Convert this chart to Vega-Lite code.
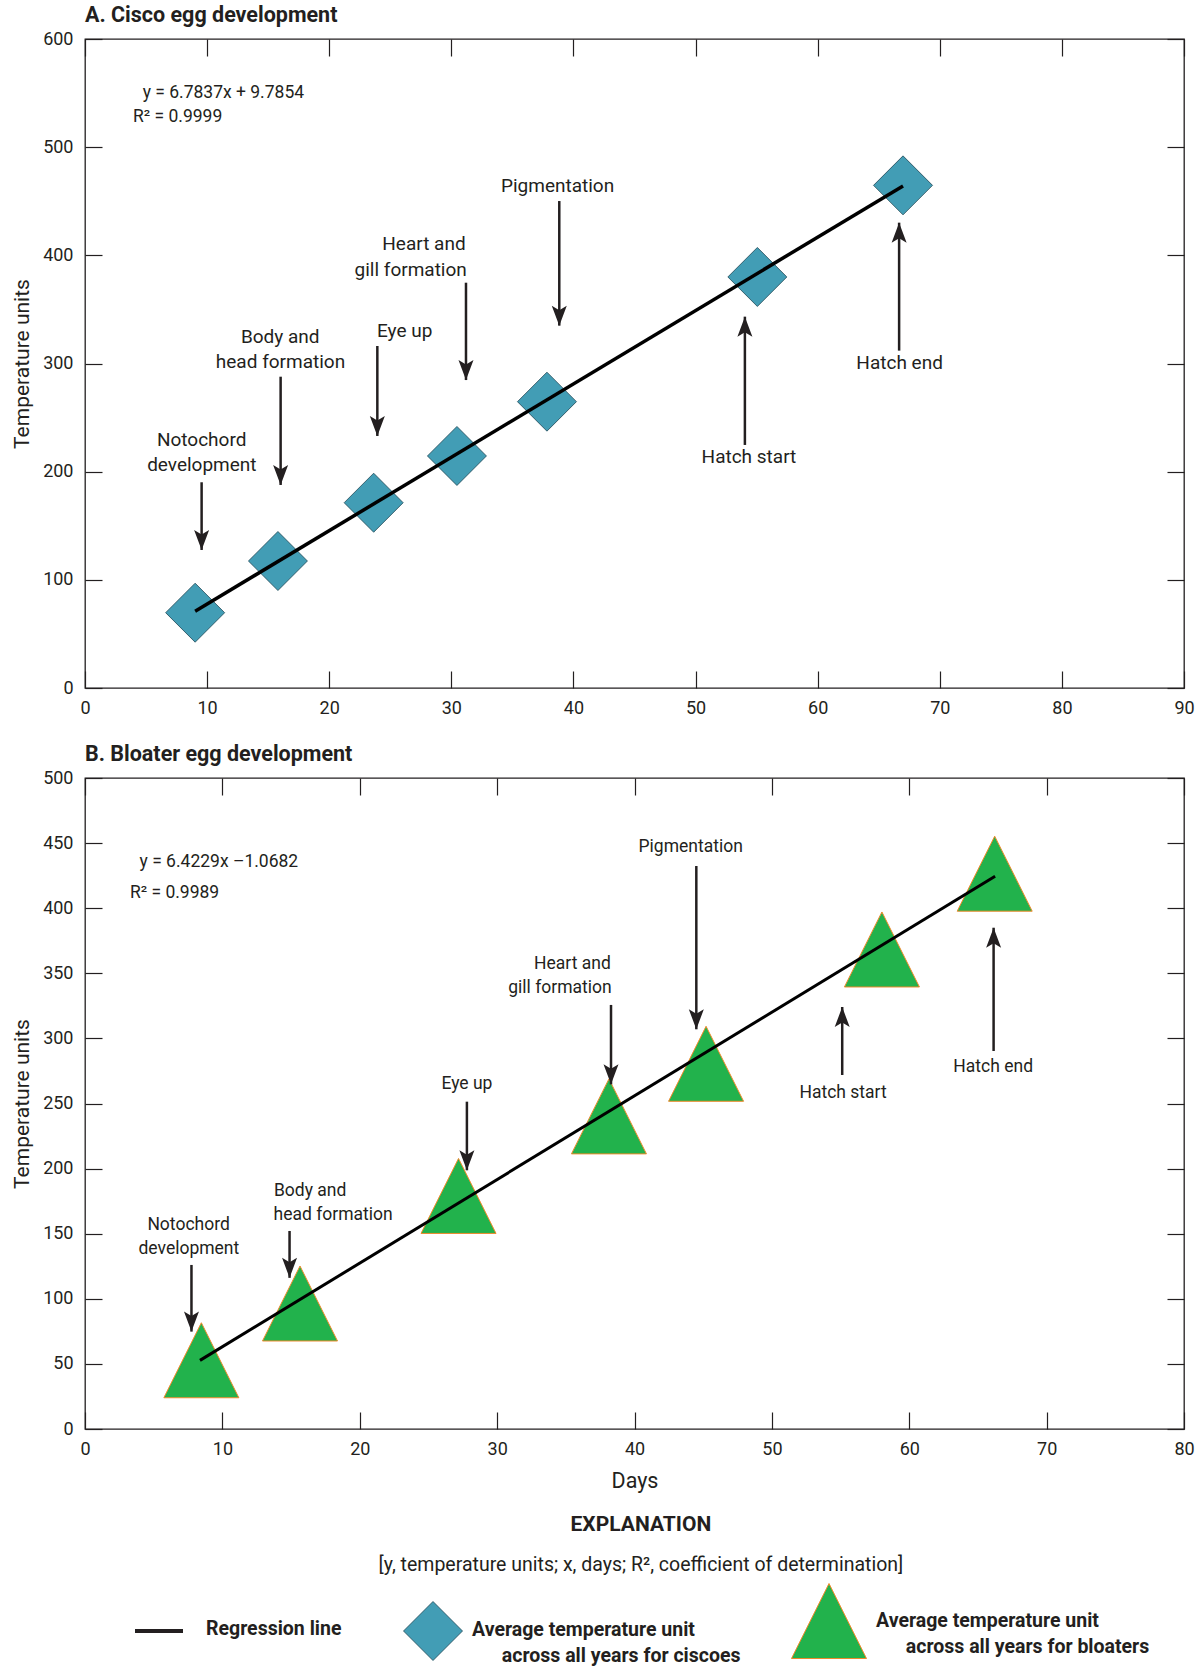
{
  "$schema": "https://vega.github.io/schema/vega-lite/v6.json",
  "padding": {"left": 11, "right": 8, "top": 3, "bottom": 0},
  "background": "white",
  "spacing": 24,
  "config": {
    "view": {"stroke": "#231f20", "strokeWidth": 1.3},
    "axis": {
      "grid": false, "domain": false, "tickColor": "#231f20", "tickWidth": 1.2, "tickSize": -17,
      "labelFont": "Roboto", "labelFontSize": 18, "labelColor": "#231f20",
      "labelFlush": false, "labelOverlap": false, "labelPadding": 29,
      "titleFont": "Roboto", "titleFontSize": 21, "titleFontWeight": "normal", "titleColor": "#231f20"
    },
    "axisX": {"labelPadding": 28, "titlePadding": 12, "titleFontSize": 21.5},
    "axisY": {"titlePadding": 10},
    "title": {"font": "Roboto", "fontSize": 21.5, "fontWeight": "bold", "color": "#231f20", "anchor": "start", "frame": "group", "offset": 0},
    "legend": {
      "orient": "none", "legendX": 36, "legendY": 1544, "direction": "horizontal", "columns": 3, "clipHeight": 84,
      "labelFont": "Roboto", "labelFontWeight": "bold", "labelFontSize": 19.5, "labelColor": "#231f20",
      "labelLimit": 600, "labelOffset": -6, "columnPadding": 50, "symbolOpacity": 1
    }
  },
  "datasets": {
    "ciscoPts": [
      {"day": 9.02, "tu": 69.6}, {"day": 15.8, "tu": 117.4}, {"day": 23.64, "tu": 171.3},
      {"day": 30.46, "tu": 214.5}, {"day": 37.83, "tu": 264.7}, {"day": 55.06, "tu": 380.0}, {"day": 66.99, "tu": 464.7}
    ],
    "ciscoLine": [{"day": 9.02, "tu": 71.0}, {"day": 66.99, "tu": 464.2}],
    "ciscoArrows": [
      {"day": 9.55, "from": 190.2, "to": 127.6, "dir": "down"},
      {"day": 16.02, "from": 287.8, "to": 187.7, "dir": "down"},
      {"day": 23.94, "from": 316.2, "to": 233.0, "dir": "down"},
      {"day": 31.2, "from": 374.7, "to": 284.7, "dir": "down"},
      {"day": 38.84, "from": 450.2, "to": 335.0, "dir": "down"},
      {"day": 54.04, "from": 224.7, "to": 343.3, "dir": "up"},
      {"day": 66.67, "from": 311.9, "to": 430.2, "dir": "up"}
    ],
    "ciscoLabels": [
      {"day": 9.55, "tu": 229.3, "label": "Notochord"}, {"day": 9.57, "tu": 206.2, "label": "development"},
      {"day": 15.99, "tu": 324.8, "label": "Body and"}, {"day": 16.01, "tu": 301.1, "label": "head formation"},
      {"day": 26.18, "tu": 330.0, "label": "Eye up"},
      {"day": 27.76, "tu": 410.5, "label": "Heart and"}, {"day": 26.67, "tu": 386.4, "label": "gill formation"},
      {"day": 38.70, "tu": 464.1, "label": "Pigmentation"},
      {"day": 54.37, "tu": 213.3, "label": "Hatch start"}, {"day": 66.71, "tu": 300.2, "label": "Hatch end"}
    ],
    "ciscoEq": [
      {"day": 4.72, "tu": 550.3, "text": "y = 6.7837x + 9.7854"},
      {"day": 3.93, "tu": 527.6, "text": "R² = 0.9999"}
    ],
    "bloaterPts": [
      {"day": 8.47, "tu": 52.8, "series": "Average temperature unit across all years for bloaters"},
      {"day": 15.65, "tu": 96.4, "series": "Average temperature unit across all years for bloaters"},
      {"day": 27.19, "tu": 179.0, "series": "Average temperature unit across all years for bloaters"},
      {"day": 38.14, "tu": 240.1, "series": "Average temperature unit across all years for bloaters"},
      {"day": 45.21, "tu": 280.5, "series": "Average temperature unit across all years for bloaters"},
      {"day": 58.01, "tu": 368.3, "series": "Average temperature unit across all years for bloaters"},
      {"day": 66.22, "tu": 426.5, "series": "Average temperature unit across all years for bloaters"}
    ],
    "bloaterLine": [{"day": 8.37, "tu": 52.7}, {"day": 66.25, "tu": 424.5}],
    "bloaterArrows": [
      {"day": 7.75, "from": 126.0, "to": 74.8, "dir": "down"},
      {"day": 14.89, "from": 152.1, "to": 116.1, "dir": "down"},
      {"day": 27.80, "from": 251.4, "to": 198.7, "dir": "down"},
      {"day": 38.29, "from": 325.7, "to": 264.7, "dir": "down"},
      {"day": 44.50, "from": 432.4, "to": 307.0, "dir": "down"},
      {"day": 55.12, "from": 271.9, "to": 324.1, "dir": "up"},
      {"day": 66.14, "from": 290.3, "to": 385.0, "dir": "up"}
    ],
    "bloaterLabels": [
      {"day": 7.54, "tu": 156.7, "label": "Notochord"}, {"day": 7.56, "tu": 138.3, "label": "development"},
      {"day": 16.39, "tu": 182.8, "label": "Body and"}, {"day": 18.06, "tu": 164.4, "label": "head formation"},
      {"day": 27.80, "tu": 264.7, "label": "Eye up"},
      {"day": 35.48, "tu": 356.8, "label": "Heart and"}, {"day": 34.57, "tu": 338.8, "label": "gill formation"},
      {"day": 44.09, "tu": 447.2, "label": "Pigmentation"},
      {"day": 55.18, "tu": 258.3, "label": "Hatch start"}, {"day": 66.11, "tu": 278.0, "label": "Hatch end"}
    ],
    "bloaterEq": [
      {"day": 3.97, "tu": 435.6, "text": "y = 6.4229x –1.0682"},
      {"day": 3.27, "tu": 411.8, "text": "R² = 0.9989"}
    ]
  },
  "vconcat": [
    {
      "width": 1099, "height": 649,
      "title": {"text": "A. Cisco egg development"},
      "resolve": {"axis": {"x": "independent", "y": "independent"}},
      "layer": [
        {
          "data": {"name": "ciscoPts"},
          "mark": {"type": "point", "shape": "diamond", "size": 3481, "filled": true, "fill": "#429db5", "stroke": "#1f4756", "strokeWidth": 0.8, "opacity": 1},
          "encoding": {
            "x": {"field": "day", "type": "quantitative", "scale": {"domain": [0, 90], "nice": false, "zero": false},
                  "axis": {"orient": "bottom", "values": [0, 10, 20, 30, 40, 50, 60, 70, 80, 90], "title": null}},
            "y": {"field": "tu", "type": "quantitative", "scale": {"domain": [0, 600], "nice": false},
                  "axis": {"orient": "left", "values": [0, 100, 200, 300, 400, 500, 600], "title": "Temperature units"}}
          }
        },
        {
          "data": {"name": "ciscoLine"},
          "mark": {"type": "line", "color": "#000000", "strokeWidth": 3.5},
          "encoding": {
            "x": {"field": "day", "type": "quantitative", "axis": {"orient": "top", "labels": false, "title": null, "values": [0, 10, 20, 30, 40, 50, 60, 70, 80, 90]}},
            "y": {"field": "tu", "type": "quantitative", "axis": {"orient": "right", "labels": false, "title": null, "values": [0, 100, 200, 300, 400, 500, 600]}}
          }
        },
        {
          "data": {"name": "ciscoArrows"},
          "mark": {"type": "rule", "color": "#231f20", "strokeWidth": 2.5},
          "encoding": {
            "x": {"field": "day", "type": "quantitative", "axis": null},
            "y": {"field": "from", "type": "quantitative", "axis": null},
            "y2": {"field": "to"}
          }
        },
        {
          "data": {"name": "ciscoArrows"},
          "transform": [{"filter": "datum.dir == 'down'"}],
          "mark": {"type": "point", "shape": "M0,1L-0.75,-1L0,-0.55L0.75,-1Z", "size": 400, "filled": true, "fill": "#231f20", "strokeWidth": 0, "opacity": 1, "yOffset": -10},
          "encoding": {
            "x": {"field": "day", "type": "quantitative", "axis": null},
            "y": {"field": "to", "type": "quantitative", "axis": null}
          }
        },
        {
          "data": {"name": "ciscoArrows"},
          "transform": [{"filter": "datum.dir == 'up'"}],
          "mark": {"type": "point", "shape": "M0,-1L-0.75,1L0,0.55L0.75,1Z", "size": 400, "filled": true, "fill": "#231f20", "strokeWidth": 0, "opacity": 1, "yOffset": 10},
          "encoding": {
            "x": {"field": "day", "type": "quantitative", "axis": null},
            "y": {"field": "to", "type": "quantitative", "axis": null}
          }
        },
        {
          "data": {"name": "ciscoLabels"},
          "mark": {"type": "text", "font": "Roboto", "fontSize": 19, "color": "#231f20", "align": "center", "baseline": "middle"},
          "encoding": {
            "x": {"field": "day", "type": "quantitative", "axis": null},
            "y": {"field": "tu", "type": "quantitative", "axis": null},
            "text": {"field": "label"}
          }
        },
        {
          "data": {"name": "ciscoEq"},
          "mark": {"type": "text", "font": "Roboto", "fontSize": 17.5, "color": "#231f20", "align": "left", "baseline": "middle"},
          "encoding": {
            "x": {"field": "day", "type": "quantitative", "axis": null},
            "y": {"field": "tu", "type": "quantitative", "axis": null},
            "text": {"field": "text"}
          }
        }
      ]
    },
    {
      "title": {
        "text": "EXPLANATION",
        "subtitle": "[y, temperature units; x, days; R², coefficient of determination]",
        "orient": "bottom", "anchor": "middle", "frame": "bounds", "dx": 38,
        "fontSize": 21, "fontWeight": "bold", "offset": 22,
        "subtitleFont": "Roboto", "subtitleFontSize": 19.5, "subtitleFontWeight": "normal",
        "subtitleColor": "#231f20", "subtitlePadding": 21
      },
      "vconcat": [
        {
          "width": 1099, "height": 651,
          "title": {"text": "B. Bloater egg development"},
          "resolve": {"axis": {"x": "independent", "y": "independent"}},
          "layer": [
            {
              "data": {"name": "bloaterPts"},
              "mark": {"type": "point", "filled": true, "opacity": 1},
              "encoding": {
                "x": {"field": "day", "type": "quantitative", "scale": {"domain": [0, 80], "nice": false, "zero": false},
                      "axis": {"orient": "bottom", "values": [0, 10, 20, 30, 40, 50, 60, 70, 80], "title": "Days"}},
                "y": {"field": "tu", "type": "quantitative", "scale": {"domain": [0, 500], "nice": false},
                      "axis": {"orient": "left", "values": [0, 50, 100, 150, 200, 250, 300, 350, 400, 450, 500], "title": "Temperature units"}},
                "shape": {"field": "series", "type": "nominal",
                  "scale": {"domain": ["Regression line", "Average temperature unit across all years for ciscoes", "Average temperature unit across all years for bloaters"],
                            "range": ["stroke", "diamond", "M0,-1L1,1L-1,1Z"]},
                  "legend": {"title": null,
                    "labelExpr": "datum.label == 'Regression line' ? datum.label + '\u2002\u200b' : [slice(datum.label, 0, 24), '\u200b\u2002\u2002\u2002' + slice(datum.label, 25)]",
                    "encoding": {
                      "symbols": {
                        "x": {"value": {"expr": "datum.value == 'Average temperature unit across all years for ciscoes' ? 31 : 38"}},
                        "y": {"value": {"expr": "datum.value == 'Average temperature unit across all years for bloaters' ? 38 : 48"}}
                      },
                      "labels": {
                        "lineHeight": {"value": 25.5},
                        "dx": {"value": {"expr": "datum.value == 'Average temperature unit across all years for ciscoes' ? 0 : 15"}},
                        "dy": {"value": {"expr": "datum.value == 'Average temperature unit across all years for bloaters' ? -4 : datum.value == 'Regression line' ? 4 : 5"}}
                      }
                    }}},
                "fill": {"field": "series", "type": "nominal",
                  "scale": {"domain": ["Regression line", "Average temperature unit across all years for ciscoes", "Average temperature unit across all years for bloaters"],
                            "range": ["#231f20", "#429db5", "#22b24c"]},
                  "legend": {"title": null,
                    "labelExpr": "datum.label == 'Regression line' ? datum.label + '\u2002\u200b' : [slice(datum.label, 0, 24), '\u200b\u2002\u2002\u2002' + slice(datum.label, 25)]",
                    "encoding": {
                      "symbols": {
                        "x": {"value": {"expr": "datum.value == 'Average temperature unit across all years for ciscoes' ? 31 : 38"}},
                        "y": {"value": {"expr": "datum.value == 'Average temperature unit across all years for bloaters' ? 38 : 48"}}
                      },
                      "labels": {
                        "lineHeight": {"value": 25.5},
                        "dx": {"value": {"expr": "datum.value == 'Average temperature unit across all years for ciscoes' ? 0 : 15"}},
                        "dy": {"value": {"expr": "datum.value == 'Average temperature unit across all years for bloaters' ? -4 : datum.value == 'Regression line' ? 4 : 5"}}
                      }
                    }}},
                "stroke": {"field": "series", "type": "nominal",
                  "scale": {"domain": ["Regression line", "Average temperature unit across all years for ciscoes", "Average temperature unit across all years for bloaters"],
                            "range": ["#231f20", "#1f4756", "#ef8a2c"]},
                  "legend": {"title": null,
                    "labelExpr": "datum.label == 'Regression line' ? datum.label + '\u2002\u200b' : [slice(datum.label, 0, 24), '\u200b\u2002\u2002\u2002' + slice(datum.label, 25)]",
                    "encoding": {
                      "symbols": {
                        "x": {"value": {"expr": "datum.value == 'Average temperature unit across all years for ciscoes' ? 31 : 38"}},
                        "y": {"value": {"expr": "datum.value == 'Average temperature unit across all years for bloaters' ? 38 : 48"}}
                      },
                      "labels": {
                        "lineHeight": {"value": 25.5},
                        "dx": {"value": {"expr": "datum.value == 'Average temperature unit across all years for ciscoes' ? 0 : 15"}},
                        "dy": {"value": {"expr": "datum.value == 'Average temperature unit across all years for bloaters' ? -4 : datum.value == 'Regression line' ? 4 : 5"}}
                      }
                    }}},
                "size": {"field": "series", "type": "nominal",
                  "scale": {"type": "ordinal", "domain": ["Regression line", "Average temperature unit across all years for ciscoes", "Average temperature unit across all years for bloaters"],
                            "range": [2304, 3481, 5625]},
                  "legend": {"title": null,
                    "labelExpr": "datum.label == 'Regression line' ? datum.label + '\u2002\u200b' : [slice(datum.label, 0, 24), '\u200b\u2002\u2002\u2002' + slice(datum.label, 25)]",
                    "encoding": {
                      "symbols": {
                        "x": {"value": {"expr": "datum.value == 'Average temperature unit across all years for ciscoes' ? 31 : 38"}},
                        "y": {"value": {"expr": "datum.value == 'Average temperature unit across all years for bloaters' ? 38 : 48"}}
                      },
                      "labels": {
                        "lineHeight": {"value": 25.5},
                        "dx": {"value": {"expr": "datum.value == 'Average temperature unit across all years for ciscoes' ? 0 : 15"}},
                        "dy": {"value": {"expr": "datum.value == 'Average temperature unit across all years for bloaters' ? -4 : datum.value == 'Regression line' ? 4 : 5"}}
                      }
                    }}},
                "strokeWidth": {"field": "series", "type": "nominal",
                  "scale": {"type": "ordinal", "domain": ["Regression line", "Average temperature unit across all years for ciscoes", "Average temperature unit across all years for bloaters"],
                            "range": [4, 0.8, 1]},
                  "legend": {"title": null,
                    "labelExpr": "datum.label == 'Regression line' ? datum.label + '\u2002\u200b' : [slice(datum.label, 0, 24), '\u200b\u2002\u2002\u2002' + slice(datum.label, 25)]",
                    "encoding": {
                      "symbols": {
                        "x": {"value": {"expr": "datum.value == 'Average temperature unit across all years for ciscoes' ? 31 : 38"}},
                        "y": {"value": {"expr": "datum.value == 'Average temperature unit across all years for bloaters' ? 38 : 48"}}
                      },
                      "labels": {
                        "lineHeight": {"value": 25.5},
                        "dx": {"value": {"expr": "datum.value == 'Average temperature unit across all years for ciscoes' ? 0 : 15"}},
                        "dy": {"value": {"expr": "datum.value == 'Average temperature unit across all years for bloaters' ? -4 : datum.value == 'Regression line' ? 4 : 5"}}
                      }
                    }}}
              }
            },
            {
              "data": {"name": "bloaterLine"},
              "mark": {"type": "line", "color": "#000000", "strokeWidth": 3},
              "encoding": {
                "x": {"field": "day", "type": "quantitative", "axis": {"orient": "top", "labels": false, "title": null, "values": [0, 10, 20, 30, 40, 50, 60, 70, 80]}},
                "y": {"field": "tu", "type": "quantitative", "axis": {"orient": "right", "labels": false, "title": null, "values": [0, 50, 100, 150, 200, 250, 300, 350, 400, 450, 500]}}
              }
            },
            {
              "data": {"name": "bloaterArrows"},
              "mark": {"type": "rule", "color": "#231f20", "strokeWidth": 2.5},
              "encoding": {
                "x": {"field": "day", "type": "quantitative", "axis": null},
                "y": {"field": "from", "type": "quantitative", "axis": null},
                "y2": {"field": "to"}
              }
            },
            {
              "data": {"name": "bloaterArrows"},
              "transform": [{"filter": "datum.dir == 'down'"}],
              "mark": {"type": "point", "shape": "M0,1L-0.75,-1L0,-0.55L0.75,-1Z", "size": 400, "filled": true, "fill": "#231f20", "strokeWidth": 0, "opacity": 1, "yOffset": -10},
              "encoding": {
                "x": {"field": "day", "type": "quantitative", "axis": null},
                "y": {"field": "to", "type": "quantitative", "axis": null}
              }
            },
            {
              "data": {"name": "bloaterArrows"},
              "transform": [{"filter": "datum.dir == 'up'"}],
              "mark": {"type": "point", "shape": "M0,-1L-0.75,1L0,0.55L0.75,1Z", "size": 400, "filled": true, "fill": "#231f20", "strokeWidth": 0, "opacity": 1, "yOffset": 10},
              "encoding": {
                "x": {"field": "day", "type": "quantitative", "axis": null},
                "y": {"field": "to", "type": "quantitative", "axis": null}
              }
            },
            {
              "data": {"name": "bloaterLabels"},
              "mark": {"type": "text", "font": "Roboto", "fontSize": 17.5, "color": "#231f20", "align": "center", "baseline": "middle"},
              "encoding": {
                "x": {"field": "day", "type": "quantitative", "axis": null},
                "y": {"field": "tu", "type": "quantitative", "axis": null},
                "text": {"field": "label"}
              }
            },
            {
              "data": {"name": "bloaterEq"},
              "mark": {"type": "text", "font": "Roboto", "fontSize": 17.5, "color": "#231f20", "align": "left", "baseline": "middle"},
              "encoding": {
                "x": {"field": "day", "type": "quantitative", "axis": null},
                "y": {"field": "tu", "type": "quantitative", "axis": null},
                "text": {"field": "text"}
              }
            }
          ]
        }
      ]
    }
  ]
}
